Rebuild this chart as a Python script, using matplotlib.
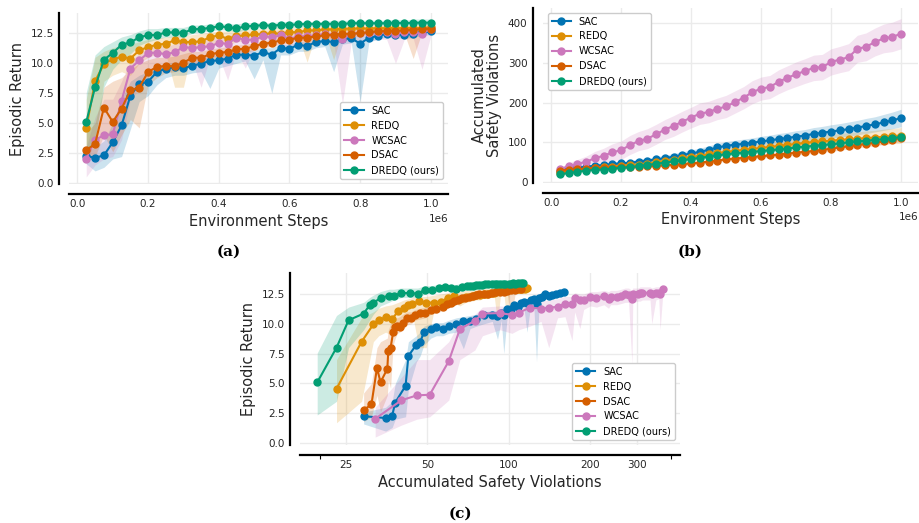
import numpy as np
import matplotlib
matplotlib.use("Agg")
import matplotlib.pyplot as plt
from matplotlib.ticker import FixedLocator, FixedFormatter, NullFormatter

# environment steps (x of panels a and b)
steps = np.arange(25000, 1000001, 25000)

methods = ["SAC", "REDQ", "WCSAC", "DSAC", "DREDQ (ours)"]
colors = {"SAC": "#0173b2", "REDQ": "#de8f05", "WCSAC": "#cc78bc",
          "DSAC": "#d55e00", "DREDQ (ours)": "#029e73"}

# episodic return (mean, lower, upper)
sac_ret = [2.25, 2.1, 2.3, 3.4, 4.8, 7.3, 8.25, 8.47, 9.28, 9.55, 9.7, 9.58, 9.8, 9.97, 10.2, 10.25, 10.4, 10.72, 10.72, 10.64,
           10.94, 10.72, 11.28, 11.22, 11.55, 11.44, 11.78, 11.86, 11.78, 12.0, 12.1, 11.64, 12.14, 12.28, 12.47, 12.36, 12.39, 12.47, 12.58, 12.67]
sac_lo = [1.6, 1.0, 1.3, 2.0, 2.2, 4.5, 6.8, 7.3, 8.2, 8.8, 9.0, 9.0, 9.2, 9.3, 7.9, 9.6, 9.8, 10.0, 10.2, 8.7,
          10.3, 7.5, 10.7, 10.7, 11.0, 11.0, 11.3, 11.4, 9.3, 11.6, 11.7, 6.8, 11.8, 12.0, 12.2, 12.1, 12.1, 12.2, 12.3, 12.4]
sac_hi = [2.6, 3.0, 3.5, 5.0, 7.0, 8.5, 9.0, 9.3, 9.8, 10.0, 10.1, 10.1, 10.3, 10.5, 10.6, 10.7, 10.8, 11.0, 11.1, 11.1,
          11.3, 11.3, 11.6, 11.6, 11.8, 11.8, 12.0, 12.1, 12.1, 12.2, 12.3, 12.3, 12.4, 12.5, 12.7, 12.6, 12.6, 12.7, 12.8, 12.9]

redq_ret = [4.55, 8.5, 9.95, 10.33, 10.55, 10.4, 11.08, 11.36, 11.55, 11.64, 11.92, 11.78, 11.78, 11.83, 12.19, 12.33, 12.05, 12.28, 12.33, 12.42,
            12.42, 12.53, 12.47, 12.6, 12.6, 12.75, 12.75, 12.83, 12.83, 12.9, 12.9, 12.92, 12.9, 12.95, 12.92, 12.95, 12.95, 12.97, 12.95, 13.0]
redq_lo = [1.7, 3.5, 8.5, 9.0, 9.3, 9.0, 10.0, 10.5, 10.8, 10.8, 8.0, 8.0, 11.2, 11.3, 11.6, 11.7, 11.5, 11.8, 11.9, 12.0,
           12.0, 12.2, 12.1, 12.3, 12.3, 10.1, 12.5, 12.6, 10.3, 12.7, 12.7, 12.7, 12.7, 12.7, 12.7, 12.7, 12.7, 12.7, 12.7, 12.8]
redq_hi = [7.0, 10.5, 11.0, 11.3, 11.5, 11.6, 11.8, 12.0, 12.1, 12.2, 12.3, 12.3, 12.4, 12.5, 12.6, 12.7, 12.7, 12.8, 12.8, 12.9,
           12.9, 13.0, 13.0, 13.0, 13.0, 13.1, 13.1, 13.1, 13.1, 13.2, 13.2, 13.2, 13.2, 13.2, 13.2, 13.2, 13.2, 13.2, 13.2, 13.3]

wcsac_ret = [2.03, 3.58, 4.0, 4.05, 6.86, 9.56, 10.25, 10.86, 10.9, 10.75, 10.92, 11.36, 11.28, 11.36, 11.42, 11.7, 11.64, 12.14, 11.97, 11.97,
             12.25, 12.2, 12.33, 12.05, 12.25, 12.25, 12.33, 12.47, 12.4, 12.05, 12.47, 12.53, 12.55, 12.6, 12.6, 12.47, 12.6, 12.6, 12.47, 12.9]
wcsac_lo = [0.5, 1.5, 2.0, 2.2, 3.6, 7.0, 7.8, 9.0, 9.5, 9.2, 9.5, 9.8, 10.2, 8.0, 10.5, 10.6, 8.6, 11.0, 9.6, 11.2,
            11.5, 11.4, 11.6, 11.3, 11.6, 11.6, 11.7, 11.8, 11.8, 6.6, 11.8, 11.9, 11.9, 12.0, 12.0, 10.0, 12.0, 12.1, 9.5, 12.3]
wcsac_hi = [3.0, 5.5, 7.0, 7.0, 8.5, 10.2, 10.8, 11.4, 11.5, 11.4, 11.6, 11.9, 11.9, 12.0, 12.1, 12.3, 12.3, 12.6, 12.5, 12.5,
            12.7, 12.7, 12.8, 12.7, 12.8, 12.8, 12.9, 13.0, 13.0, 12.8, 13.0, 13.0, 13.1, 13.1, 13.1, 13.0, 13.1, 13.1, 13.0, 13.3]

dsac_ret = [2.75, 3.25, 6.3, 5.1, 6.22, 7.75, 7.97, 9.28, 9.7, 9.78, 9.75, 10.05, 10.47, 10.47, 10.75, 10.89, 10.94, 11.17, 11.22, 11.42,
            11.64, 11.72, 11.92, 11.97, 12.14, 12.14, 12.25, 12.33, 12.39, 12.47, 12.47, 12.53, 12.6, 12.67, 12.7, 12.7, 12.75, 12.8, 12.86, 12.9]
dsac_lo = [1.8, 2.2, 4.0, 2.6, 4.0, 5.3, 4.6, 8.2, 8.8, 9.2, 9.3, 9.5, 9.9, 10.0, 10.3, 10.4, 10.5, 10.8, 10.9, 11.1,
           11.3, 11.4, 11.6, 11.7, 11.9, 11.9, 12.0, 12.1, 12.1, 12.2, 12.2, 12.3, 12.4, 12.4, 12.5, 12.5, 12.5, 10.4, 12.6, 12.7]
dsac_hi = [4.2, 5.0, 8.0, 8.5, 8.8, 9.5, 10.0, 10.3, 10.5, 10.5, 10.6, 10.8, 11.0, 11.0, 11.2, 11.3, 11.4, 11.5, 11.6, 11.7,
           11.9, 12.0, 12.2, 12.2, 12.4, 12.4, 12.5, 12.6, 12.6, 12.7, 12.7, 12.8, 12.8, 12.9, 12.9, 12.9, 13.0, 13.0, 13.1, 13.1]

dredq_ret = [5.08, 8.0, 10.3, 10.86, 11.55, 11.75, 12.17, 12.36, 12.36, 12.58, 12.58, 12.53, 12.86, 12.86, 12.97, 13.08, 13.03, 12.92, 13.08, 13.14,
             13.19, 13.14, 13.22, 13.22, 13.25, 13.3, 13.3, 13.3, 13.3, 13.3, 13.35, 13.35, 13.35, 13.35, 13.35, 13.4, 13.35, 13.4, 13.4, 13.4]
dredq_lo = [2.35, 3.5, 8.0, 9.5, 10.3, 10.8, 11.5, 11.8, 12.0, 12.2, 12.2, 12.2, 12.5, 12.6, 12.7, 12.8, 12.8, 12.6, 12.8, 12.9,
            13.0, 12.9, 13.0, 13.0, 13.0, 13.1, 13.1, 13.1, 13.1, 13.1, 13.2, 13.2, 13.2, 13.2, 13.2, 13.2, 13.2, 13.2, 13.2, 13.2]
dredq_hi = [7.55, 10.7, 11.4, 11.8, 12.2, 12.4, 12.7, 12.9, 12.9, 13.0, 13.0, 13.0, 13.2, 13.2, 13.3, 13.3, 13.3, 13.3, 13.4, 13.4,
            13.4, 13.4, 13.5, 13.5, 13.5, 13.5, 13.5, 13.5, 13.6, 13.6, 13.6, 13.6, 13.6, 13.6, 13.6, 13.7, 13.6, 13.7, 13.7, 13.7]

# accumulated safety violations (mean, band half width)
sac_viol = [29, 35, 37, 38, 41.5, 42.5, 45.5, 47, 48.5, 51.5, 54, 57, 60, 64, 68, 72, 76, 81, 87, 91,
            94, 96, 99, 102, 105, 108, 111, 114, 117, 121, 124, 127, 130, 133, 137, 141, 145, 150, 155, 161]
sac_vstd = [3, 3, 3, 4, 4, 4, 5, 5, 5, 6, 6, 7, 7, 8, 8, 9, 9, 10, 10, 11,
            11, 12, 12, 13, 13, 14, 14, 15, 15, 16, 16, 17, 17, 18, 18, 19, 19, 20, 21, 22]
redq_viol = [23, 28.5, 31.5, 33, 35, 37, 39, 41, 42.5, 44, 46.5, 49.5, 53, 56, 59.5, 63, 66, 69.5, 73, 76,
             78.5, 81, 83.5, 86, 88.5, 91, 93.5, 96, 98.5, 101, 102.5, 104, 106, 107.5, 109, 110.5, 112, 114, 115.5, 117]
redq_vstd = [3, 3, 3, 3, 4, 4, 4, 5, 5, 5, 6, 6, 6, 7, 7, 8, 8, 9, 9, 10,
             10, 11, 11, 12, 12, 13, 13, 14, 14, 15, 15, 16, 16, 17, 17, 18, 18, 19, 19, 20]
wcsac_viol = [32, 40, 45.7, 51, 60, 66, 75, 80, 93, 103, 109, 120, 132, 141, 152, 162, 172, 176, 184, 190,
              201, 212, 226, 235, 239, 252, 262, 271, 279, 287, 289, 302, 308, 314, 335, 340, 352, 361, 365, 373]
wcsac_vstd = [4, 8, 11, 14, 17, 19, 21, 23, 24, 24, 25, 25, 25, 26, 26, 26, 27, 27, 27, 28,
              28, 28, 29, 29, 29, 30, 30, 31, 31, 32, 32, 33, 33, 34, 34, 35, 35, 36, 37, 38]
dsac_viol = [29, 31, 32.5, 33.5, 35.5, 35.8, 36.5, 37.3, 38, 38.7, 39.5, 40.5, 42, 43.5, 45, 47, 49, 51.5, 54, 57,
             59, 61, 63, 65, 67, 69, 71.5, 74, 76, 78, 81, 84, 87, 90, 93, 96, 99, 102, 106, 111]
dsac_vstd = [2, 2, 2, 2, 2, 2, 3, 3, 3, 3, 3, 3, 3, 4, 4, 4, 4, 4, 4, 5,
             5, 5, 5, 5, 5, 6, 6, 6, 6, 6, 6, 7, 7, 7, 7, 7, 8, 8, 8, 8]
dredq_viol = [19.5, 23, 25.5, 29, 30.5, 31.5, 33.5, 36, 37.5, 40, 43, 46, 49, 52, 55, 58, 61, 64, 67, 70,
              72, 74, 76, 78, 80, 82, 84, 87, 89, 91, 93, 95, 97, 100, 102, 104, 106, 108, 111, 113]
dredq_vstd = [2, 2, 2, 2, 2, 2, 3, 3, 3, 3, 3, 3, 3, 4, 4, 4, 4, 4, 4, 5,
              5, 5, 5, 5, 5, 6, 6, 6, 6, 6, 6, 7, 7, 7, 7, 7, 8, 8, 8, 8]

ret = {"SAC": (sac_ret, sac_lo, sac_hi), "REDQ": (redq_ret, redq_lo, redq_hi),
       "WCSAC": (wcsac_ret, wcsac_lo, wcsac_hi), "DSAC": (dsac_ret, dsac_lo, dsac_hi),
       "DREDQ (ours)": (dredq_ret, dredq_lo, dredq_hi)}
viol = {"SAC": (sac_viol, sac_vstd), "REDQ": (redq_viol, redq_vstd), "WCSAC": (wcsac_viol, wcsac_vstd),
        "DSAC": (dsac_viol, dsac_vstd), "DREDQ (ours)": (dredq_viol, dredq_vstd)}

c_order = ["SAC", "REDQ", "DSAC", "WCSAC", "DREDQ (ours)"]
c_ticks = [25, 50, 100, 200, 300]

plt.rcParams["font.family"] = "DejaVu Sans"
fig = plt.figure(figsize=(9.2, 5.23), dpi=100)
ax1 = fig.add_axes([0.075, 0.648, 0.412, 0.327])
ax2 = fig.add_axes([0.590, 0.650, 0.408, 0.335])
ax3 = fig.add_axes([0.326, 0.149, 0.413, 0.329])


def style(ax):
    ax.grid(True, which="major", color="#ebebeb", lw=1)
    ax.set_axisbelow(True)
    for s in ["top", "right"]:
        ax.spines[s].set_visible(False)
    for s in ["left", "bottom"]:
        ax.spines[s].set_position(("outward", 7))
        ax.spines[s].set_linewidth(1.6)
        ax.spines[s].set_color("black")
    ax.tick_params(which="major", length=0, labelsize=7.5, pad=4, labelcolor="0.15")


kw = dict(marker="o", ms=5, lw=1.5)

# (a) return vs steps
for m in methods:
    y, lo, hi = ret[m]
    ax1.fill_between(steps, lo, hi, color=colors[m], alpha=0.2, lw=0)
    ax1.plot(steps, y, color=colors[m], label=m, **kw)
style(ax1)
ax1.set_ylim(-0.1, 14.2)
ax1.set_yticks([0, 2.5, 5, 7.5, 10, 12.5])
ax1.set_xlabel("Environment Steps", fontsize=10.5, color="0.15", labelpad=3)
ax1.set_ylabel("Episodic Return", fontsize=10.5, color="0.15")
ax1.legend(loc="lower right", fontsize=7, edgecolor="#cccccc", framealpha=1)
ax1.xaxis.get_offset_text().set_fontsize(7.5)

# (b) violations vs steps
for m in methods:
    y, sd = viol[m]
    y = np.array(y)
    sd = np.array(sd)
    ax2.fill_between(steps, y - sd, y + sd, color=colors[m], alpha=0.2, lw=0)
    ax2.plot(steps, y, color=colors[m], label=m, **kw)
style(ax2)
ax2.set_ylim(-2.5, 438)
ax2.set_yticks([0, 100, 200, 300, 400])
ax2.set_xlabel("Environment Steps", fontsize=10.5, color="0.15", labelpad=3)
ax2.set_ylabel("Accumulated\nSafety Violations", fontsize=10.5, color="0.15", linespacing=1.05)
ax2.legend(loc="upper left", fontsize=7, edgecolor="#cccccc", framealpha=1)
ax2.xaxis.get_offset_text().set_fontsize(7.5)

# (c) return vs violations
for m in c_order:
    y, lo, hi = ret[m]
    x = viol[m][0]
    ax3.fill_between(x, lo, hi, color=colors[m], alpha=0.2, lw=0)
    ax3.plot(x, y, color=colors[m], label=m, **kw)
ax3.set_xscale("log")
style(ax3)
ax3.xaxis.set_major_locator(FixedLocator(c_ticks))
ax3.xaxis.set_major_formatter(FixedFormatter([str(t) for t in c_ticks]))
ax3.xaxis.set_minor_locator(FixedLocator([20, 400]))
ax3.xaxis.set_minor_formatter(NullFormatter())
ax3.tick_params(which="minor", length=3, width=0.8, color="black")
ax3.set_ylim(-0.17, 14.26)
ax3.set_yticks([0, 2.5, 5, 7.5, 10, 12.5])
ax3.set_xlabel("Accumulated Safety Violations", fontsize=10.5, color="0.15", labelpad=3)
ax3.set_ylabel("Episodic Return", fontsize=10.5, color="0.15")
ax3.legend(loc="lower right", fontsize=7, edgecolor="#cccccc", framealpha=1)

cap = dict(ha="center", va="center", fontsize=11, fontweight="bold", family="DejaVu Serif")
fig.text(229 / 920, 1 - 252 / 523, "(a)", **cap)
fig.text(690 / 920, 1 - 252 / 523, "(b)", **cap)
fig.text(460 / 920, 1 - 514 / 523, "(c)", **cap)

fig.savefig("out.png", dpi=100)
